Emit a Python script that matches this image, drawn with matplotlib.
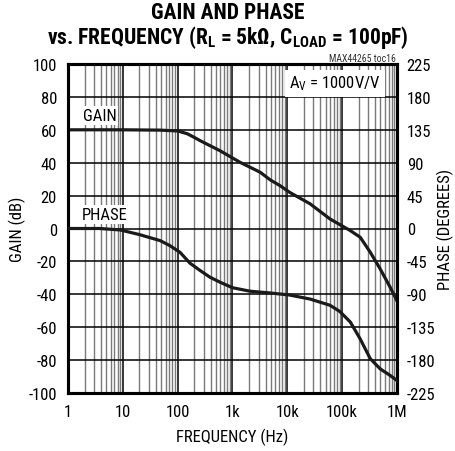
import numpy as np
import matplotlib
matplotlib.use("Agg")
import matplotlib.pyplot as plt
from matplotlib.ticker import LogLocator, FixedLocator, NullFormatter

plt.rcParams['font.family'] = ['Liberation Sans Narrow', 'Roboto Condensed', 'Liberation Sans', 'DejaVu Sans']
plt.rcParams['mathtext.fontset'] = 'custom'
plt.rcParams['mathtext.rm'] = 'Roboto Condensed'
plt.rcParams['mathtext.it'] = 'Roboto Condensed'
plt.rcParams['mathtext.bf'] = 'Roboto Condensed:bold'
plt.rcParams['axes.unicode_minus'] = False

# gain curve (Hz, dB)
gain_f = [1, 10, 48, 100, 150, 200, 257, 590, 1380, 3200, 4900, 7400, 11000,
          26000, 60000, 141000, 213000, 325000, 494000, 750000, 1000000]
gain_db = [60, 60, 59.8, 59.3, 57.6, 55.4, 53.4, 47.3, 40.2, 34.2, 29.5, 26, 22,
           15, 5.8, -1.3, -5.3, -14.4, -24.6, -35.7, -44]

# phase curve (Hz, degrees)
phase_f = [1, 3.8, 9, 20, 48, 72, 110, 168, 257, 390, 590, 1000, 2100,
           4900, 11000, 26000, 60000, 91000, 141000, 213000, 325000,
           494000, 750000, 1000000]
phase_deg = [0, 0, -2, -8.3, -16.6, -23.4, -32.5, -47.5, -57.5, -66.7,
             -73.4, -81, -85.8, -88.2, -91, -96.5, -105, -113.6, -128,
             -151, -178, -192, -201, -208]

gain_ticks = [-100, -80, -60, -40, -20, 0, 20, 40, 60, 80, 100]
phase_ticks = [-225, -180, -135, -90, -45, 0, 45, 90, 135, 180, 225]
freq_ticks = [1, 10, 100, 1e3, 1e4, 1e5, 1e6]
freq_labels = ['1', '10', '100', '1k', '10k', '100k', '1M']

fs = 12
fig = plt.figure(figsize=(4.56, 4.52), dpi=100)
ax = fig.add_axes([68/456, 1-394/452, 329/456, 329/452])
ax.set_xscale('log')
ax.set_xlim(1, 1e6)
ax.set_ylim(-100, 100)
ax.set_xticks(freq_ticks)
ax.set_xticklabels(freq_labels)
ax.xaxis.set_minor_locator(LogLocator(base=10, subs=np.arange(2, 10), numticks=50))
ax.xaxis.set_minor_formatter(NullFormatter())
ax.set_yticks(gain_ticks)
ax.tick_params(which='both', length=0, labelsize=fs, pad=8)
ax.grid(True, which='major', color='black', linewidth=1.1)
ax.grid(True, which='minor', axis='x', color='#7a7a7a', linewidth=1.0)
ax.set_axisbelow(True)
for s in ax.spines.values():
    s.set_linewidth(2.2)
    s.set_zorder(5)

ax.plot(gain_f, gain_db, color='#1a1a1a', linewidth=2.3, zorder=4)

ax2 = ax.twinx()
ax2.set_ylim(-225, 225)
ax2.yaxis.set_major_locator(FixedLocator(phase_ticks))
ax2.tick_params(length=0, labelsize=fs, pad=7)
ax2.plot(phase_f, phase_deg, color='#1a1a1a', linewidth=2.3, zorder=4)
for s in ax2.spines.values():
    s.set_linewidth(2.2)

ax.set_ylabel('GAIN (dB)', fontsize=fs, va='center')
ax.yaxis.set_label_coords(-0.155, 0.5)
ax2.set_ylabel('PHASE (DEGREES)', fontsize=fs, va='center')
ax2.yaxis.set_label_coords(1.147, 0.5)
ax.set_xlabel('FREQUENCY (Hz)', fontsize=fs, va='center')
ax.xaxis.set_label_coords(0.5, -0.131)

box = dict(facecolor='white', edgecolor='none', pad=1.5)
ax.text(1.85, 68.5, 'GAIN', fontsize=fs, ha='left', va='center', bbox=box, zorder=6)
ax.text(1.8, 8.5, 'PHASE', fontsize=fs, ha='left', va='center', bbox=box, zorder=6)
ax.text(0.95, 0.942, 'A$_\\mathrm{V}$ = 1000V/V', transform=ax.transAxes,
        fontsize=fs, ha='right', va='center',
        bbox=dict(facecolor='white', edgecolor='none', pad=3), zorder=6)

fig.text(0.5, 0.972, 'GAIN AND PHASE', ha='center', va='center',
         fontsize=15.5, fontweight='bold')
fig.text(0.5, 0.918, 'vs. FREQUENCY (R$_\\mathbf{L}$ = 5k\u03a9, C$_\\mathbf{LOAD}$ = 100pF)',
         ha='center', va='center', fontsize=15.5, fontweight='bold')
fig.text(0.868, 0.87, 'MAX44265 toc16', ha='right', va='center', fontsize=7, color='#333333')

fig.savefig('out.png', dpi=100)
